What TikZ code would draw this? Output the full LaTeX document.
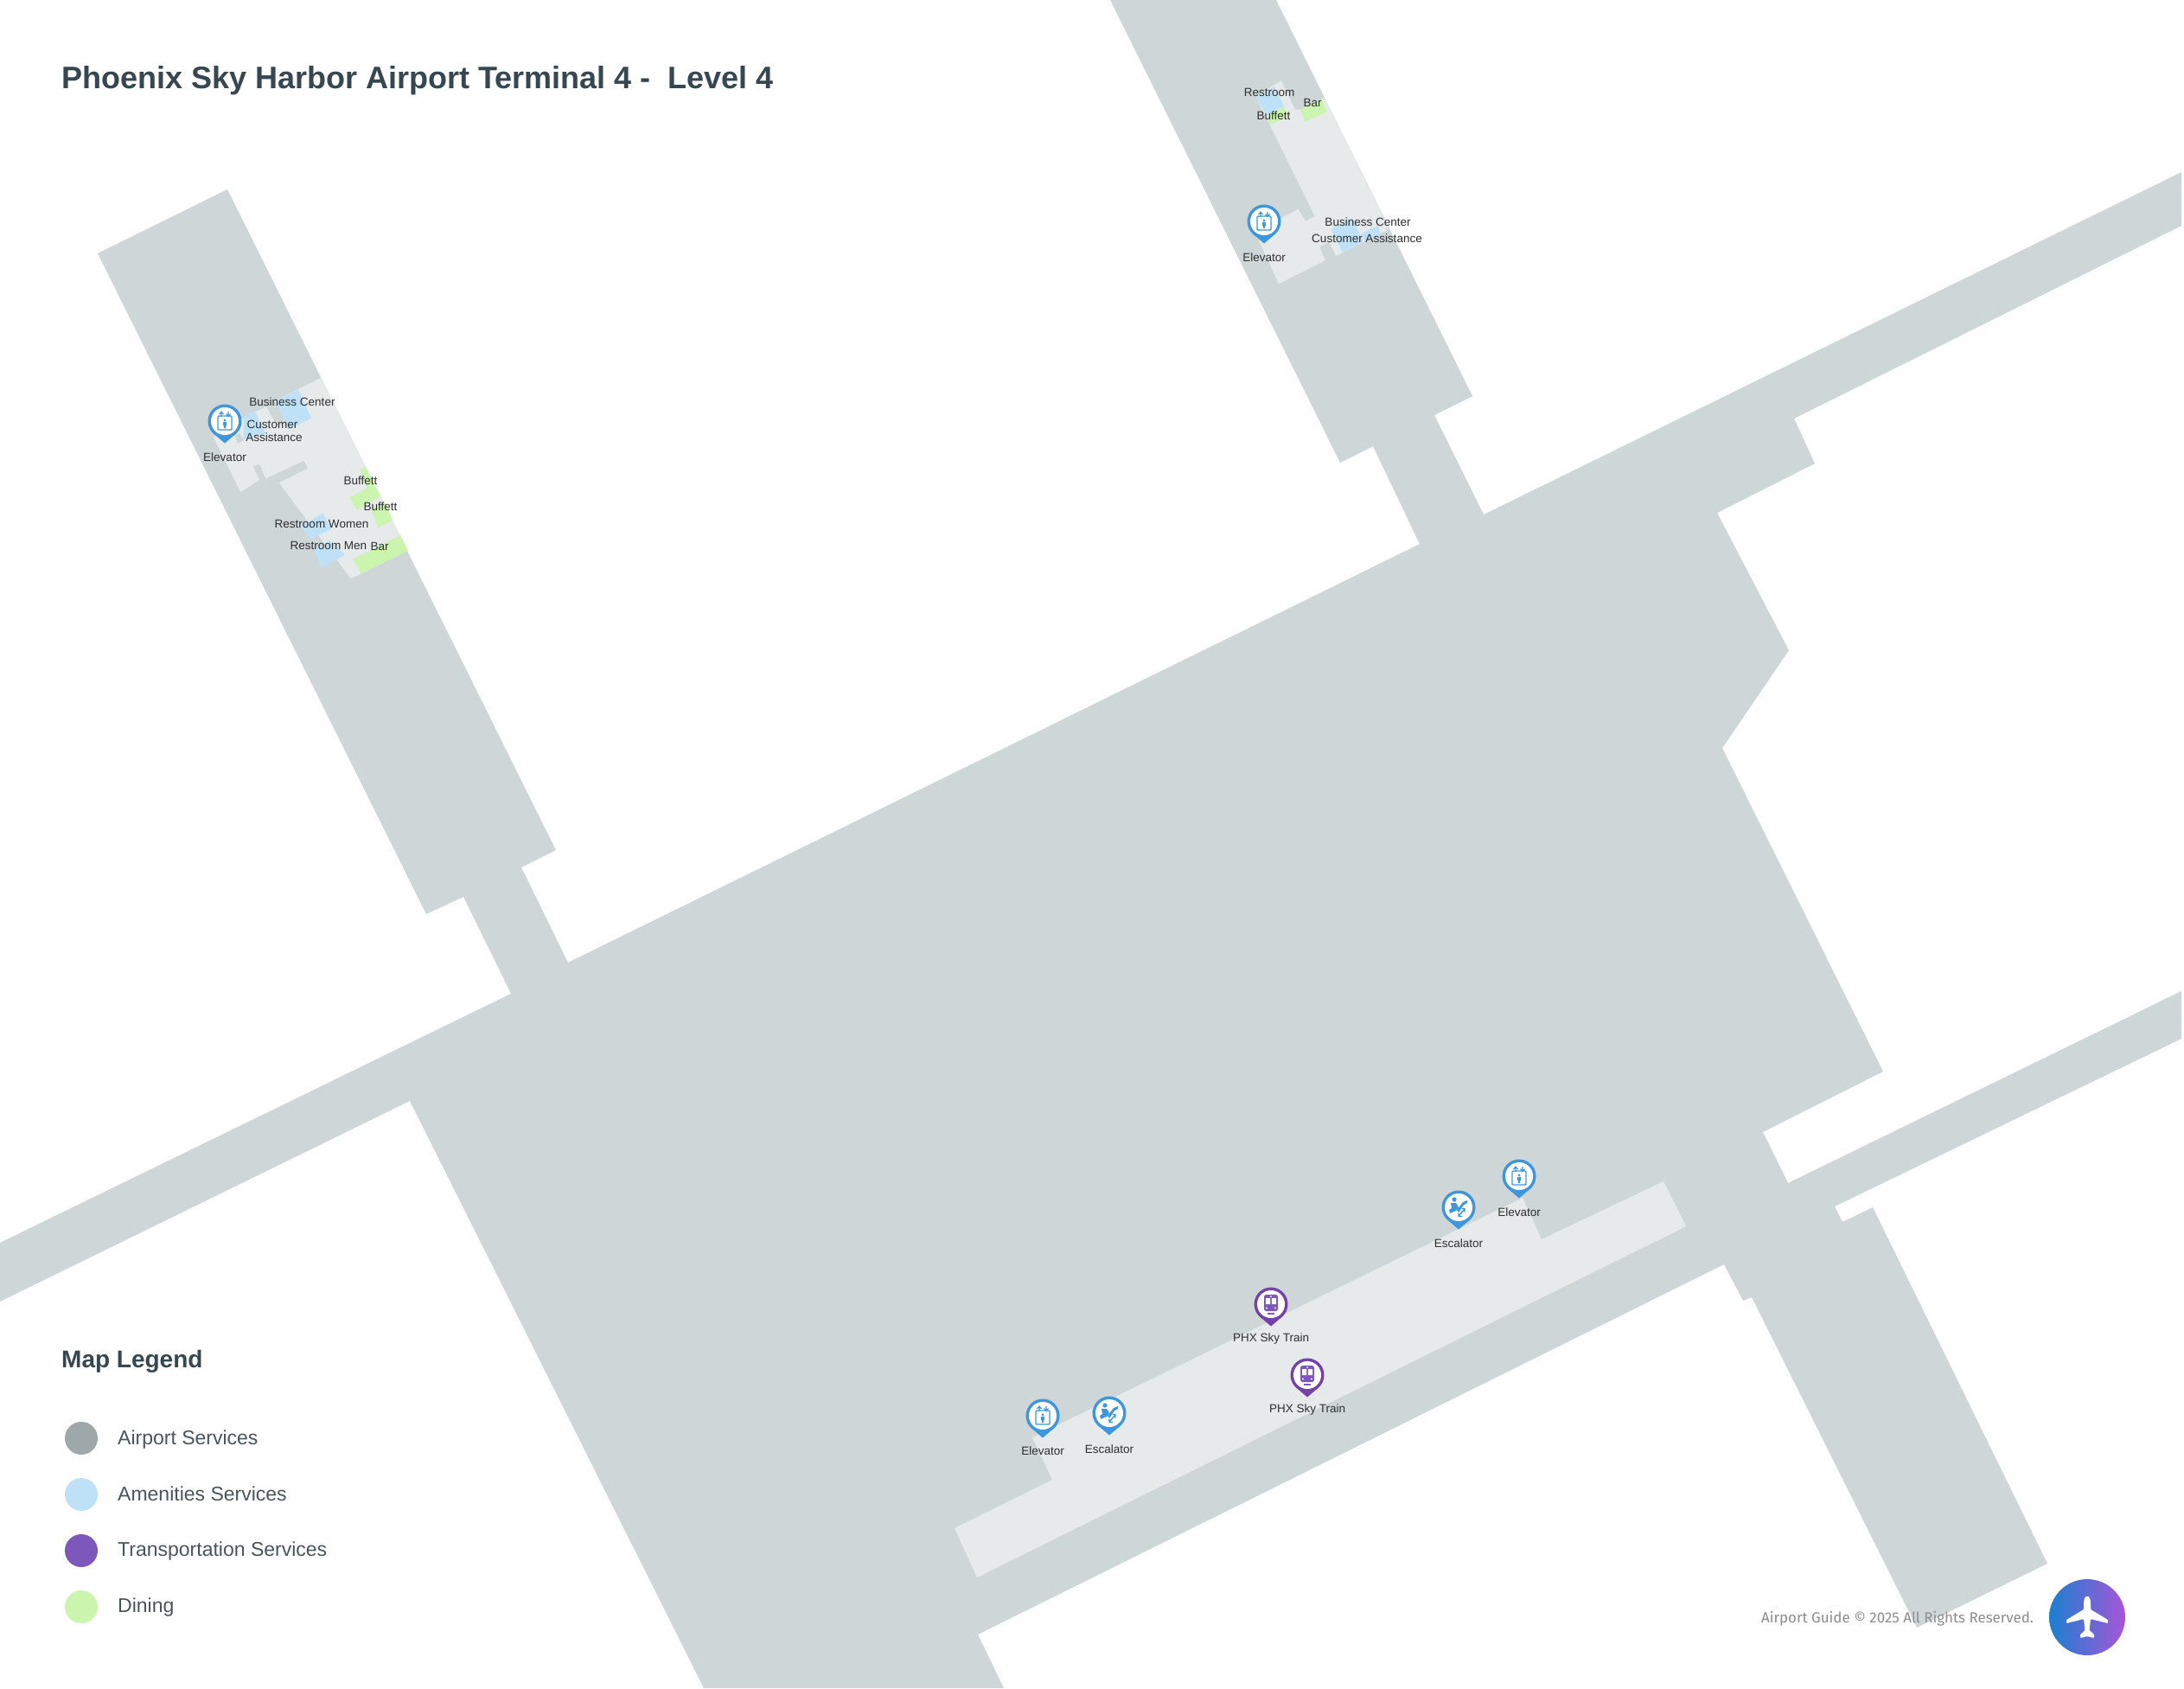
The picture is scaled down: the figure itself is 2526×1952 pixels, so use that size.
\documentclass[tikz,border=0pt]{standalone}
\usepackage{fontspec}
\setmainfont{Liberation Sans}
\newfontfamily\firafont{Fira Sans}
\definecolor{mapgrey}{HTML}{CFD6D8}
\definecolor{maplight}{HTML}{E6EAEB}
\definecolor{amen}{HTML}{BEE1F7}
\definecolor{dine}{HTML}{CBF5AE}
\definecolor{trans}{HTML}{7E57BC}
\definecolor{airsvc}{HTML}{9EA7AA}
\definecolor{ink}{HTML}{37474F}
\definecolor{legendink}{HTML}{4A555A}
\definecolor{pinblue}{HTML}{3E97DD}
\definecolor{pinpurple}{HTML}{7442A8}
\definecolor{logoblue}{HTML}{1A80D0}
\definecolor{logopurple}{HTML}{A855D8}
\tikzset{
  maplabel/.style={inner sep=0pt,yshift=-1pt,text=black!82,font=\fontsize{13.5}{15}\selectfont},
  legendtext/.style={inner sep=0pt,anchor=base west,text=legendink,font=\fontsize{23}{26}\selectfont},
  legenddot/.style={circle,minimum size=38pt,inner sep=0pt},
  pics/pinbase/.style={code={
    \fill[#1] (0,0) circle (19.5);
    \fill[#1] (-14,13.5) -- (0,25.5) -- (14,13.5) -- cycle;
    \fill[white] (0,0) circle (16);
  }},
  pics/elevpin/.style={code={
    \pic {pinbase=pinblue};
    \draw[pinblue,line width=1.4pt,rounded corners=1pt] (-8,-6) rectangle (8,10);
    \draw[pinblue,line width=1.1pt] (-4,-5) -- (-4,-10) (-6.5,-8) -- (-4,-11) -- (-1.5,-8);
    \draw[pinblue,line width=1.1pt] (4,-11) -- (4,-6) (1.5,-8.5) -- (4,-5.5) -- (6.5,-8.5);
    \fill[pinblue] (0,-1) circle (1.6);
    \fill[pinblue] (-2,1) rectangle (2,5) (-1.2,5) rectangle (1.2,8);
  }},
  pics/escpin/.style={code={
    \pic {pinbase=pinblue};
    \fill[pinblue] (-5,-9) circle (2.6);
    \fill[pinblue] (-9,-5) -- (-3,-5) -- (0,0) -- (-3,4) -- (-10,7) -- (-11,3) -- (-8,1) -- cycle;
    \fill[pinblue] (-2,3) -- (5,-6) -- (10,-8) -- (10,-5) -- (6,-3) -- (0,6) -- cycle;
    \draw[pinblue,line width=1.4pt] (0,10) -- (7,2) (0,6.5) -- (0,10.5) -- (4,10.5) (7,5.5) -- (7,1.5) -- (3.5,1.5);
  }},
  pics/trainpin/.style={code={
    \pic {pinbase=pinpurple};
    \fill[trans,rounded corners=2.5pt] (-8,-11) rectangle (8,8);
    \fill[white] (-6,-7) rectangle (-0.8,0) (0.8,-7) rectangle (6,0);
    \fill[white] (0,-9) circle (1) (-5,4.5) circle (1.1) (5,4.5) circle (1.1);
    \draw[trans,line width=1.4pt] (-4,11) -- (4,11);
  }},
}
\begin{document}
\begin{tikzpicture}[x=1pt,y=-1pt]
\useasboundingbox (0,0) rectangle (2526,1952);
\fill[white] (0,0) rectangle (2526,1952);
% building
\fill[mapgrey] (1284,0) -- (1476,0) -- (1703,458) -- (1659,480) -- (1716,595) -- (2523,199)
 -- (2523,261) -- (2075,484) -- (2099,536) -- (1986,593) -- (2069,752) -- (1992,865) -- (2178,1239)
 -- (2039,1309) -- (2068,1368) -- (2523,1146) -- (2523,1201) -- (2122,1395) -- (2131,1413) -- (2166,1396)
 -- (2368,1808) -- (2217,1882) -- (2026,1500) -- (2016,1504) -- (1994,1462) -- (1131,1890)
 -- (1161,1952) -- (814,1952) -- (474,1273) -- (0,1505) -- (0,1437) -- (591,1149) -- (536,1037)
 -- (493,1057) -- (113,293) -- (263,219) -- (643,983) -- (603,1003) -- (657,1113) -- (1642,629)
 -- (1588,516) -- (1550,535) -- cycle;
% band
\fill[maplight] (1104,1767) -- (1217,1711) -- (1194,1662) -- (1761,1385) -- (1783,1433) -- (1924,1366)
 -- (1950,1418) -- (1130,1824) -- cycle;
% left pier details, in zoom-crop units
\begin{scope}[shift={(200,420)},x=0.33333pt,y=-0.33333pt]
\fill[maplight] (515,50) -- (815,650) -- (618,748) -- (368,415) -- (468,365) -- (455,338) -- (322,400)
 -- (300,350) -- (278,357) -- (300,405) -- (235,447) -- (140,255) -- (250,185) -- (325,150) -- (360,218)
 -- (392,205) -- (355,130) -- cycle;
\fill[amen] (355,130) -- (435,92) -- (480,190) -- (400,230) -- cycle;
\fill[amen] (245,185) -- (283,165) -- (322,245) -- (245,265) -- cycle;
\fill[mapgrey] (215,250) -- (232,243) -- (245,268) -- (225,277) -- cycle;
\fill[dine] (648,368) -- (668,357) -- (720,462) -- (638,508) -- (612,466) -- (672,435) -- cycle;
\fill[dine] (688,508) -- (738,483) -- (762,545) -- (712,570) -- cycle;
\fill[dine] (625,680) -- (790,597) -- (815,650) -- (652,730) -- cycle;
\fill[amen] (445,565) -- (520,520) -- (550,575) -- (475,610) -- cycle;
\fill[amen] (490,645) -- (545,615) -- (597,665) -- (515,708) -- cycle;
\end{scope}
% top pier details, in zoom-crop units
\begin{scope}[shift={(1400,70)},x=0.33333pt,y=-0.33333pt]
\fill[maplight] (245,70) -- (295,172) -- (312,170) -- (395,128) -- (620,585) -- (435,678) -- (412,628)
 -- (378,645) -- (398,693) -- (237,775) -- (155,595) -- (305,515) -- (330,557) -- (362,540) -- (205,222)
 -- (158,125) -- cycle;
\fill[amen] (158,125) -- (222,90) -- (255,158) -- (195,190) -- cycle;
\fill[dine] (195,190) -- (255,160) -- (270,195) -- (205,222) -- cycle;
\fill[dine] (312,170) -- (385,133) -- (405,178) -- (330,212) -- cycle;
\fill[amen] (418,583) -- (492,548) -- (530,628) -- (458,665) -- cycle;
\fill[amen] (525,600) -- (582,572) -- (590,610) -- (535,625) -- cycle;
\end{scope}
% pins
\pic at (260,487) {elevpin};
\pic at (1462,256) {elevpin};
\pic at (1206,1637) {elevpin};
\pic at (1283,1634) {escpin};
\pic at (1470,1508) {trainpin};
\pic at (1512,1590) {trainpin};
\pic at (1687,1396) {escpin};
\pic at (1757,1360) {elevpin};
% map labels
\node[maplabel] (l1) at (338,464) {Business Center};
\node[maplabel] (l2) at (315,490) {Customer};
\node[maplabel] (l3) at (317,505) {Assistance};
\node[maplabel] (l4) at (260,528) {Elevator};
\node[maplabel] (l5) at (417,555) {Buffett};
\node[maplabel] (l6) at (440,585) {Buffett};
\node[maplabel] (l7) at (372,605) {Restroom Women};
\node[maplabel] (l8) at (380,630) {Restroom Men};
\node[maplabel] (l9) at (439,631) {Bar};
\node[maplabel] (t1) at (1468,106) {Restroom};
\node[maplabel] (t2) at (1518,118) {Bar};
\node[maplabel] (t3) at (1473,133) {Buffett};
\node[maplabel] (t4) at (1582,256) {Business Center};
\node[maplabel] (t5) at (1581,275) {Customer Assistance};
\node[maplabel] (t6) at (1462,297) {Elevator};
\node[maplabel] (b1) at (1206,1677) {Elevator};
\node[maplabel] (b2) at (1283,1675) {Escalator};
\node[maplabel] (b3) at (1470,1547) {PHX Sky Train};
\node[maplabel] (b4) at (1512,1629) {PHX Sky Train};
\node[maplabel] (b5) at (1687,1437) {Escalator};
\node[maplabel] (b6) at (1757,1401) {Elevator};
% title
\node[inner sep=0pt,anchor=west,text=ink,font=\fontsize{36}{42}\selectfont\bfseries] (title) at (71,93) {Phoenix Sky Harbor Airport Terminal 4 -\ \ Level 4};
% legend
\node[inner sep=0pt,anchor=west,text=ink,font=\fontsize{28}{32}\selectfont\bfseries] (legtitle) at (71,1574) {Map Legend};
\node[legenddot,fill=airsvc] (d1) at (94,1663) {};
\node[legenddot,fill=amen] (d2) at (94,1728) {};
\node[legenddot,fill=trans] (d3) at (94,1793) {};
\node[legenddot,fill=dine] (d4) at (94,1858) {};
\node[legendtext] (e1) at (136,1670) {Airport Services};
\node[legendtext] (e2) at (136,1735) {Amenities Services};
\node[legendtext] (e3) at (136,1799) {Transportation Services};
\node[legendtext] (e4) at (136,1864) {Dining};
% footer
\node[inner sep=0pt,anchor=west,text=black!45,font=\fontsize{16.9}{20}\selectfont\firafont] (foot) at (2037,1872) {Airport Guide © 2025 All Rights Reserved.};
\shade[shading angle=60,left color=logoblue,right color=logopurple] (2414,1870) circle (44);
\begin{scope}[shift={(2414,1870)}]
\fill[white,rounded corners=1pt] (-4,-14) .. controls (-4,-22) and (-2,-24) .. (0,-24) .. controls (2,-24) and (4,-22) .. (4,-14)
 -- (4,-9) -- (24,3) -- (24,7) -- (4,2) -- (2.5,15) -- (8,20) -- (8,24) -- (0,22) -- (-8,24) -- (-8,20) -- (-2.5,15) -- (-4,2) -- (-24,7) -- (-24,3) -- (-4,-9) -- cycle;
\end{scope}
\end{tikzpicture}
\end{document}
